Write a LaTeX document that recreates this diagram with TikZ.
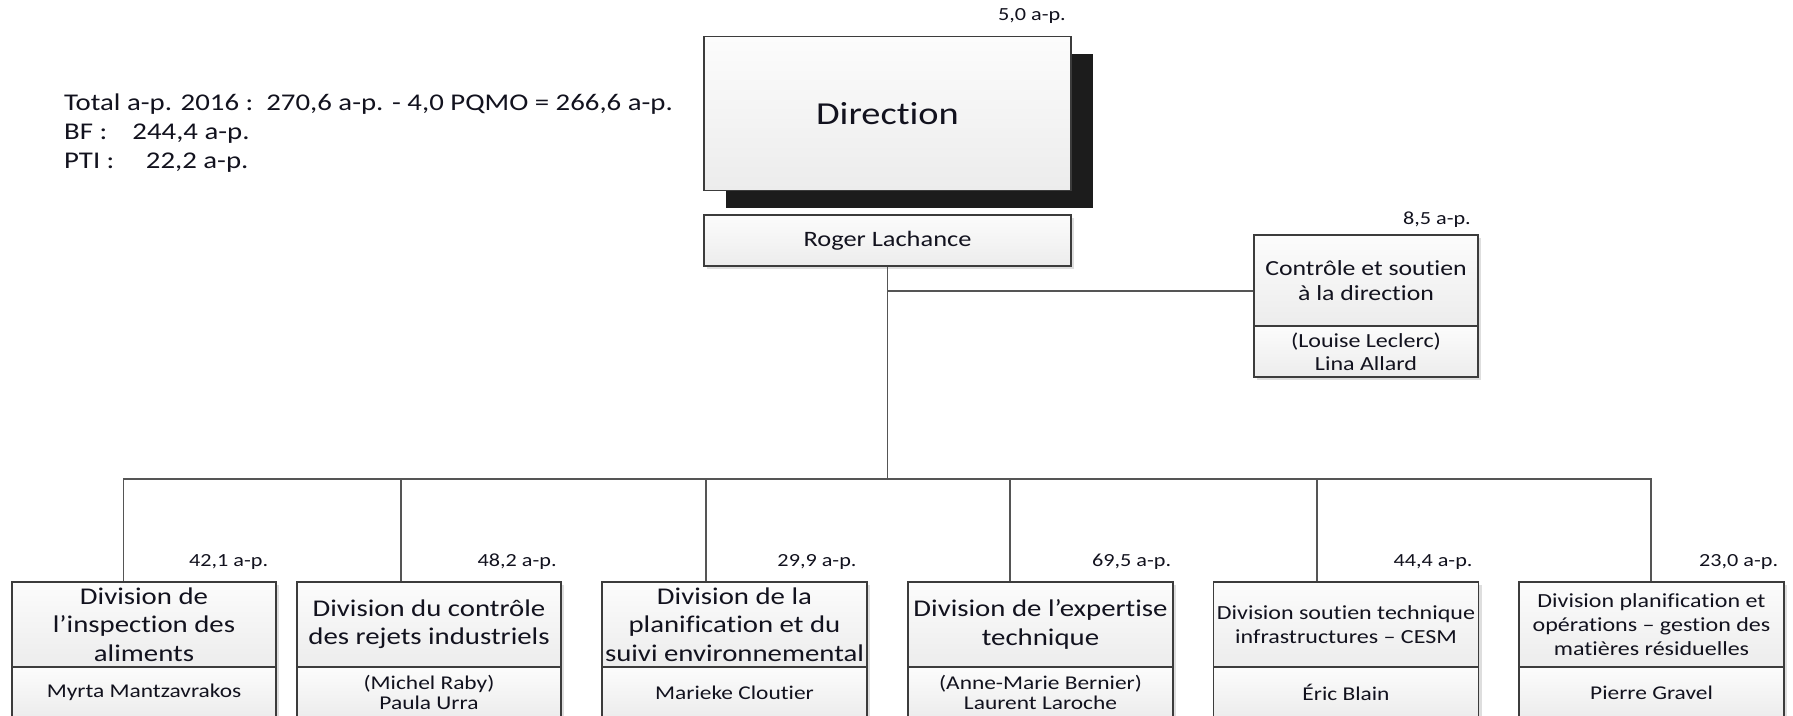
\documentclass[tikz,border=0pt]{standalone}
\usepackage{fontspec}
\setmainfont{Carlito}[FakeStretch=1.2, Ligatures=NoCommon]
\usetikzlibrary{shadows}
\definecolor{txt}{RGB}{18,18,30}
\definecolor{edge}{RGB}{60,60,60}
\definecolor{wirec}{RGB}{85,85,85}
\definecolor{topf}{RGB}{252,252,252}
\definecolor{botf}{RGB}{236,236,236}
\definecolor{shd}{RGB}{28,28,28}
\newcommand\fsz[2]{\fontsize{#1pt}{#2pt}\selectfont}
\begin{document}
\begin{tikzpicture}[x=1pt,y=-1pt,
  basebox/.style={draw=edge, line width=1.4pt, top color=topf, bottom color=botf,
    inner sep=0pt, align=center, text=txt},
  box/.style={basebox, drop shadow={shadow xshift=3pt, shadow yshift=-3pt, fill=black!13, opacity=1}},
  dirbox/.style={basebox, drop shadow={shadow xshift=22pt, shadow yshift=-17.5pt, fill=shd, opacity=1}},
  lab/.style={anchor=base east, inner sep=0pt, font=\fsz{18.5}{22}, text=txt},
  tl/.style={anchor=base west, inner sep=0pt, font=\fsz{24}{28}, text=txt},
  wire/.style={draw=wirec, line width=1.3pt},
  divtitle/.style={box, minimum width=265pt, minimum height=85pt, font=\fsz{24}{28.3}},
  divtitlesm/.style={box, minimum width=265pt, minimum height=85pt, font=\fsz{20}{24}},
  divname/.style={box, minimum width=265pt, minimum height=51pt, font=\fsz{19.5}{20}}
]
\path[use as bounding box] (0,0) rectangle (1793,715);
\clip (0,0) rectangle (1793,715);
\fill[white] (0,0) rectangle (1793,715);

% top-left summary
\node[tl] (tot) at (64,110) {Total a-p. 2016 :\ \ 270,6 a-p. - 4,0 PQMO = 266,6 a-p.};
\node[tl] (bf) at (64,139.5) {\makebox[68.3pt][l]{BF :}244,4 a-p.};
\node[tl] (pti) at (64,168.3) {\makebox[81.7pt][l]{PTI :}22,2 a-p.};

% direction
\node[dirbox, minimum width=367pt, minimum height=154pt, font=\fsz{32}{38}] (dir) at (887.5,113.5) {Direction};
\node[lab] (ldir) at (1066,20) {5,0 a-p.};
\node[box, minimum width=367pt, minimum height=51pt, font=\fsz{22}{26}] (roger) at (887.5,240.5) {Roger Lachance};

% controle
\node[box, minimum width=224pt, minimum height=91pt, font=\fsz{21.5}{25}] (ctl) at (1366,280.5) {Contrôle et soutien\\à la direction};
\node[box, minimum width=224pt, minimum height=51pt, font=\fsz{20}{23}] (ctlname) at (1366,351.5) {(Louise Leclerc)\\Lina Allard};
\node[lab] (lctl) at (1471,224.5) {8,5 a-p.};

% divisions
\node[divtitle, minimum width=264pt] (d1) at (144,624.5) {Division de\\l’inspection des\\aliments};
\node[divname, minimum width=264pt] (n1) at (144,692.5) {Myrta Mantzavrakos};
\node[lab] (l1) at (268.3,566.5) {42,1 a-p.};

\node[divtitle, minimum width=264pt] (d2) at (429,624.5) {Division du contrôle\\des rejets industriels};
\node[divname, minimum width=264pt] (n2) at (429,692.5) {(Michel Raby)\\Paula Urra};
\node[lab] (l2) at (556.8,566.5) {48,2 a-p.};

\node[divtitle] (d3) at (734.5,624.5) {Division de la\\planification et du\\suivi environnemental};
\node[divname] (n3) at (734.5,692.5) {Marieke Cloutier};
\node[lab] (l3) at (856.7,566.5) {29,9 a-p.};

\node[divtitle] (d4) at (1040.5,624.5) {Division de l’expertise\\technique};
\node[divname] (n4) at (1040.5,692.5) {(Anne-Marie Bernier)\\Laurent Laroche};
\node[lab] (l4) at (1171.3,566.5) {69,5 a-p.};

\node[divtitlesm] (d5) at (1346,624.5) {Division soutien technique\\infrastructures – CESM};
\node[divname] (n5) at (1346,692.5) {Éric Blain};
\node[lab] (l5) at (1472.7,566.5) {44,4 a-p.};

\node[divtitlesm] (d6) at (1651.5,624.5) {Division planification et\\opérations – gestion des\\matières résiduelles};
\node[divname] (n6) at (1651.5,692.5) {Pierre Gravel};
\node[lab] (l6) at (1778.3,566.5) {23,0 a-p.};

% connectors
\coordinate (bus) at (887.5,479);
\draw[wire] (roger.south) -- (bus);
\coordinate (cj) at ([yshift=-10.5pt]ctl.west);
\draw[wire] (cj) -- (cj -| roger.south);
\draw[wire] (bus) -| ([xshift=-20.5pt]d1.north);
\draw[wire] (bus) -| ([xshift=-28pt]d2.north);
\draw[wire] (bus) -| ([xshift=-28.5pt]d3.north);
\draw[wire] (bus) -| ([xshift=-30.5pt]d4.north);
\draw[wire] (bus) -| ([xshift=-29pt]d5.north);
\draw[wire] (bus) -| ([xshift=-0.5pt]d6.north);
\end{tikzpicture}
\end{document}
